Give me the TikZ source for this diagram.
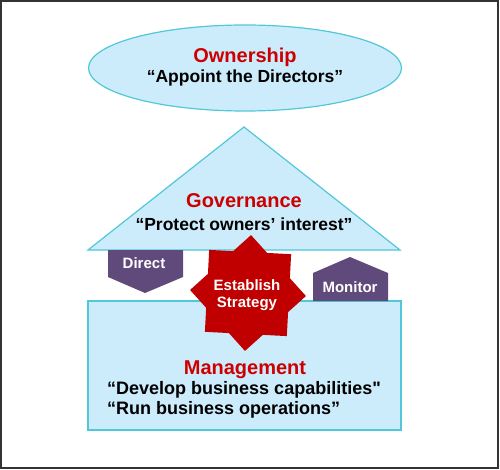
\documentclass[tikz,border=0pt]{standalone}
\usepackage{fontspec}
\setmainfont{Liberation Sans}
\usetikzlibrary{shapes.geometric}

\definecolor{skyfill}{RGB}{204,236,252}
\definecolor{skyline}{RGB}{80,200,215}
\definecolor{titlered}{RGB}{204,0,0}
\definecolor{starred}{RGB}{192,0,0}
\definecolor{plum}{RGB}{96,74,123}
\newcommand\straightquote{\XeTeXglyph\XeTeXglyphindex "quotedbl"\relax}

\begin{document}
\begin{tikzpicture}[x=1pt,y=-1pt,
  part/.style={fill=skyfill,draw=skyline,line width=1.2pt},
  head/.style={anchor=base,inner sep=0pt,text=titlered,font=\fontsize{20}{24}\selectfont\bfseries},
  quote/.style={anchor=base,inner sep=0pt,font=\fontsize{17.5}{21}\selectfont\bfseries},
  tagtext/.style={anchor=base,inner sep=0pt,text=white,font=\fontsize{15}{18}\selectfont\bfseries}]

\useasboundingbox (0,0) rectangle (500,470);
\draw[line width=2pt,draw=black!80] (1,1) rectangle (497.5,467.5);

% ownership
\node[ellipse,part,minimum width=313pt,minimum height=86pt] (own) at (245,68) {};
\node[head] (ownhead) at (245,63) {Ownership};
\node[quote] (ownquote) at (245,83) {“Appoint the Directors”};

% governance
\draw[part] (88,250) -- (244,127) -- (400,250) -- cycle;
\node[head] (govhead) at (244,208) {Governance};
\node[quote] (govquote) at (244,230) {“Protect owners’ interest”};

% management
\draw[part] (88,301) rectangle (401,430);
\node[head] (mgthead) at (245,374) {Management};
\node[quote,anchor=base west,font=\fontsize{18}{21}\selectfont\bfseries] (mgtdev) at (107,394) {“Develop business capabilities\straightquote};
\node[quote,anchor=base west,font=\fontsize{18}{21}\selectfont\bfseries] (mgtrun) at (107,414) {“Run business operations”};

% direct and monitor
\fill[plum] (108,250) -- (183,250) -- (183,277) -- (145,293) -- (108,277) -- cycle;
\node[tagtext] (direct) at (144,268) {Direct};
\fill[plum] (313,301) -- (313,273) -- (350,257) -- (388,273) -- (388,301) -- cycle;
\node[tagtext] (monitor) at (350,292) {Monitor};

% strategy star
\begin{scope}[shift={(248,293)}]
\fill[starred] (-19.5:44.4) \foreach \a in {3,48,...,318} {-- (\a:58) -- (\a+22.5:44.4)} -- cycle;
\end{scope}
\node[tagtext] (establish) at (247,290) {Establish};
\node[tagtext] (strategy) at (247,307) {Strategy};

\end{tikzpicture}
\end{document}
